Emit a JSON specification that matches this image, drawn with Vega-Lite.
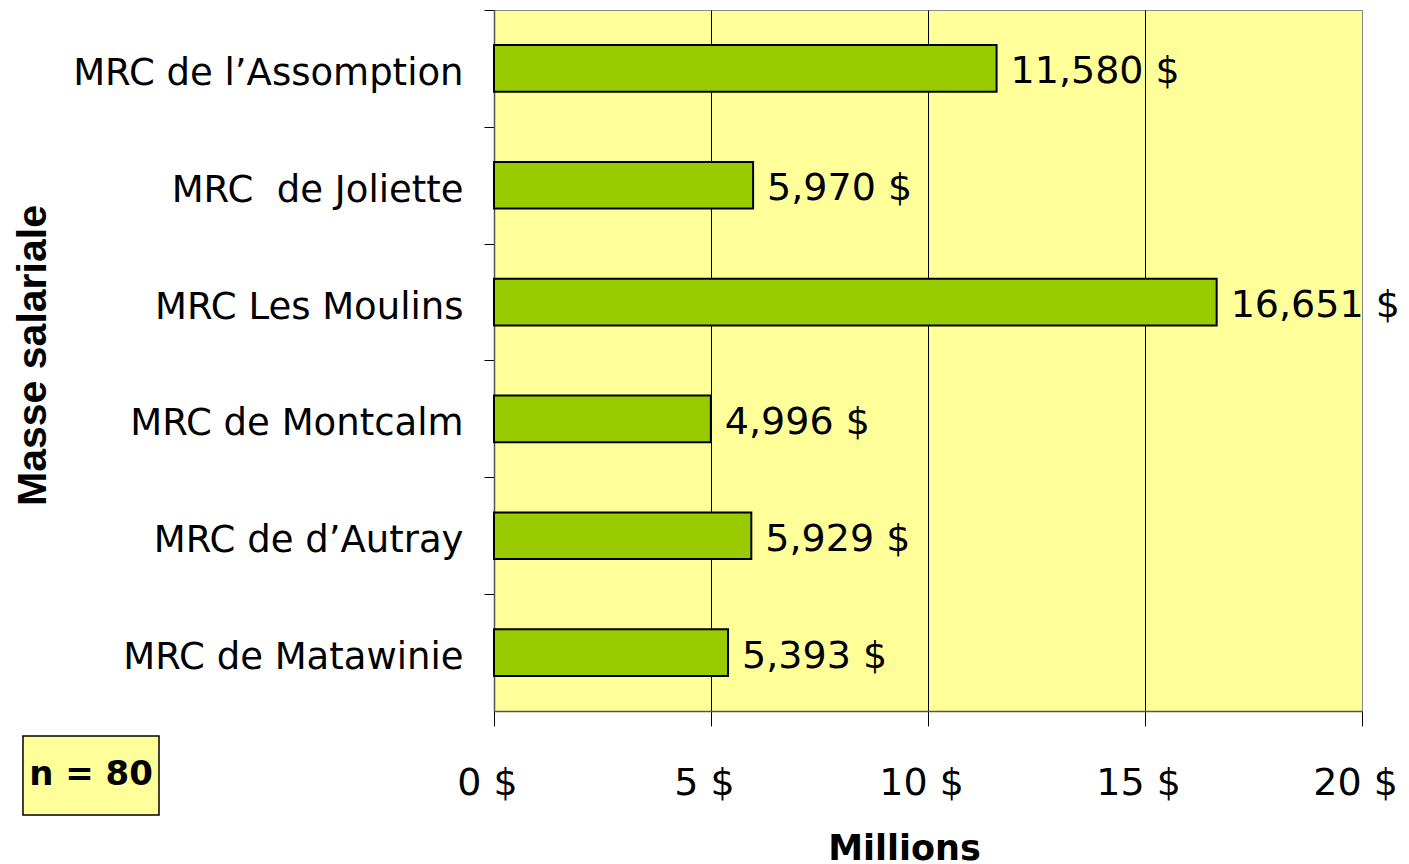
{
  "$schema": "https://vega.github.io/schema/vega-lite/v6.json",
  "width": 868,
  "height": 701,
  "autosize": {"type": "none"},
  "padding": {"left": 494, "top": 10, "right": 47, "bottom": 153},
  "background": "white",
  "config": {
    "locale": {"number": {"decimal": ",", "thousands": "\u00a0", "grouping": [3], "currency": ["", " $"]}},
    "view": {"fill": "#FFFF99", "stroke": "#888888", "strokeWidth": 1},
    "font": "DejaVu Sans"
  },
  "data": {
    "values": [
      {"mrc": "MRC de l’Assomption", "masse": 11.580},
      {"mrc": "MRC\u00a0 de Joliette", "masse": 5.970},
      {"mrc": "MRC Les Moulins", "masse": 16.651},
      {"mrc": "MRC de Montcalm", "masse": 4.996},
      {"mrc": "MRC de d’Autray", "masse": 5.929},
      {"mrc": "MRC de Matawinie\u00a0", "masse": 5.393}
    ]
  },
  "layer": [
    {
      "layer": [
        {
          "mark": {"type": "bar", "fill": "#99CC00", "stroke": "#000000", "strokeWidth": 2},
          "encoding": {
            "y": {
              "field": "mrc", "type": "nominal", "sort": null,
              "scale": {"paddingInner": 0.6, "paddingOuter": 0.3},
              "axis": {
                "title": "Masse salariale",
                "titleFont": "Liberation Sans", "titleFontWeight": "bold", "titleFontSize": 41, "titleColor": "#000000",
                "titleAngle": 270, "titleX": -449, "titleY": 345, "titleBaseline": "alphabetic", "titleAlign": "center",
                "labelFont": "DejaVu Sans", "labelFontSize": 37, "labelColor": "#000000", "labelPadding": 21, "labelLimit": 600,
                "tickOffset": -58.42, "labelOffset": 63.4,
                "tickSize": 10, "tickColor": "#000000", "tickWidth": 1,
                "domainColor": "#555555", "domainWidth": 1.5, "grid": false
              }
            },
            "x": {
              "field": "masse", "type": "quantitative",
              "scale": {"domain": [0, 20], "nice": false},
              "axis": {
                "values": [0, 5, 10, 15, 20], "format": "$.0f",
                "grid": true,
                "gridColor": {"condition": {"test": "datum.value == 20", "value": "#888888"}, "value": "#000000"},
                "gridWidth": 1, "gridOpacity": 1,
                "tickColor": "#000000", "tickSize": 15, "tickWidth": 1,
                "domainColor": "#555555", "domainWidth": 1.5,
                "labelFont": "DejaVu Sans", "labelFontSize": 38, "labelColor": "#000000",
                "labelPadding": 38, "labelOffset": -7, "labelFlush": false, "labelOverlap": false,
                "title": "Millions",
                "titleFont": "DejaVu Sans", "titleFontWeight": "bold", "titleFontSize": 35, "titleColor": "#000000",
                "titleX": 410, "titleY": 148, "titleBaseline": "alphabetic", "titleAlign": "center"
              }
            }
          }
        },
        {
          "mark": {"type": "text", "align": "left", "baseline": "middle", "dx": 14, "dy": 4, "fontSize": 38, "font": "DejaVu Sans", "color": "#000000"},
          "encoding": {
            "y": {"field": "mrc", "type": "nominal", "sort": null},
            "x": {"field": "masse", "type": "quantitative", "scale": {"domain": [0, 20], "nice": false}},
            "text": {"field": "masse", "type": "quantitative", "format": "$.3f"}
          }
        }
      ]
    },
    {
      "data": {"values": [{"n": 80}]},
      "layer": [
        {
          "mark": {"type": "rect", "fill": "#FFFF99", "stroke": "#000000", "strokeWidth": 1.5},
          "encoding": {
            "x": {"datum": -10.853, "type": "quantitative", "scale": {"domain": [0, 20], "nice": false}},
            "x2": {"datum": -7.719},
            "y": {"datum": -0.0357, "type": "quantitative", "scale": {"domain": [0, 1], "nice": false, "zero": false}, "axis": null},
            "y2": {"datum": -0.1484}
          }
        },
        {
          "mark": {"type": "text", "align": "center", "baseline": "middle", "fontSize": 34, "font": "DejaVu Sans", "fontWeight": "bold", "color": "#000000"},
          "encoding": {
            "x": {"datum": -9.286, "type": "quantitative", "scale": {"domain": [0, 20], "nice": false}},
            "y": {"datum": -0.092, "type": "quantitative", "scale": {"domain": [0, 1], "nice": false, "zero": false}, "axis": null},
            "text": {"value": "n = 80"}
          }
        }
      ]
    }
  ],
  "resolve": {"scale": {"y": "independent"}}
}
